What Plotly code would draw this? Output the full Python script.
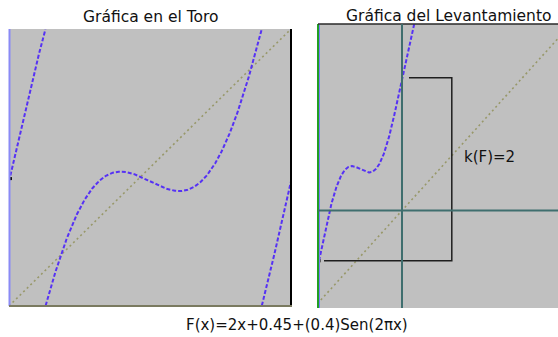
import numpy as np
import plotly.graph_objects as go

# Circle map coefficients: F(x) = slope*x + offset + amplitude*sin(2*pi*x)
slope = 2
offset = 0.45
amplitude = 0.4
degree = 2  # k(F)

titles = ["Gráfica en el Toro", "Gráfica del Levantamiento"]
formula = f"F(x)={slope}x+{offset}+({amplitude})Sen(2\u03c0x)"
degree_label = f"k(F)={degree}"

CURVE = "#5632f4"
DIAG = "#98986a"
TEAL = "#3f6e6e"
BG = "#c0c0c0"


def F(x):
    return slope * x + offset + amplitude * np.sin(2 * np.pi * x)


# Graph on the torus: F mod 1, broken where it wraps around
xt = np.linspace(0, 1, 1201)
yt = np.mod(F(xt), 1.0)
tx, ty = [], []
for i in range(len(xt)):
    if i > 0 and yt[i] < yt[i - 1] - 0.5:
        tx.append(None)
        ty.append(None)
    tx.append(xt[i])
    ty.append(yt[i])

# Lift on the real line
xl = np.linspace(0, 1.3, 800)
yl = F(xl)

W, H = 558, 337


def px(v):
    return v / W


def py(v):
    return (H - v) / H


fig = go.Figure()

# left panel: torus
fig.add_trace(go.Scatter(x=[0, 1], y=[0, 1], mode="lines", xaxis="x", yaxis="y",
                         line=dict(color=DIAG, width=1.6, dash="2px,3px"), hoverinfo="skip"))
fig.add_trace(go.Scatter(x=tx, y=ty, mode="lines", xaxis="x", yaxis="y",
                         line=dict(color=CURVE, width=2, dash="4px,2px"), hoverinfo="skip"))
fig.add_trace(go.Scatter(x=[0.005], y=[F(0) % 1 + 0.01], mode="markers", xaxis="x", yaxis="y",
                         marker=dict(color="black", size=3, symbol="square"), hoverinfo="skip"))

# right panel: lift
fig.add_trace(go.Scatter(x=[-0.1, 4], y=[-0.1, 4], mode="lines", xaxis="x2", yaxis="y2",
                         line=dict(color=DIAG, width=1.6, dash="2px,3px"), hoverinfo="skip"))
fig.add_trace(go.Scatter(x=xl, y=yl, mode="lines", xaxis="x2", yaxis="y2",
                         line=dict(color=CURVE, width=2, dash="4px,2px"), hoverinfo="skip"))
fig.add_trace(go.Scatter(x=[0.0], y=[F(0)], mode="markers", xaxis="x2", yaxis="y2",
                         marker=dict(color="black", size=3, symbol="square"), hoverinfo="skip"))

# bracket showing the rise F(1) - F(0) = k(F)
bx = 1.6
fig.add_trace(go.Scatter(x=[0.06, bx, bx, 1.084], y=[F(0), F(0), F(1), F(1)], mode="lines",
                         xaxis="x2", yaxis="y2", line=dict(color="#1e1e1e", width=1.5),
                         hoverinfo="skip"))

shapes = [
    # left panel frame
    dict(type="line", xref="paper", yref="paper", x0=px(9.5), x1=px(9.5), y0=py(306), y1=py(29),
         line=dict(color="#8a8af5", width=2)),
    dict(type="line", xref="paper", yref="paper", x0=px(291), x1=px(291), y0=py(306), y1=py(29),
         line=dict(color="black", width=2)),
    dict(type="line", xref="paper", yref="paper", x0=px(9), x1=px(292), y0=py(306), y1=py(306),
         line=dict(color="#7a7a60", width=2)),
    # right panel frame and axes
    dict(type="line", xref="paper", yref="paper", x0=px(318), x1=px(318), y0=py(308), y1=py(24),
         line=dict(color="#22a022", width=2)),
    dict(type="line", xref="paper", yref="paper", x0=px(319.5), x1=px(319.5), y0=py(308), y1=py(25),
         line=dict(color="#7a7af5", width=1)),
    dict(type="line", xref="paper", yref="paper", x0=px(318), x1=1, y0=py(24), y1=py(24),
         line=dict(color="#2a2a2a", width=1.5)),
    dict(type="line", xref="x2", yref="paper", x0=1, x1=1, y0=py(308), y1=py(24),
         line=dict(color=TEAL, width=2)),
    dict(type="line", xref="paper", yref="y2", x0=px(318), x1=1, y0=1, y1=1,
         line=dict(color=TEAL, width=2)),
]

font = dict(family="DejaVu Sans, Liberation Sans, sans-serif", color="#111111")
annotations = [
    dict(text=titles[0], x=px(150), y=py(17), xref="paper", yref="paper", showarrow=False,
         xanchor="center", yanchor="middle", font=dict(size=15.5, **font)),
    dict(text=titles[1], x=px(449), y=py(16), xref="paper", yref="paper", showarrow=False,
         xanchor="center", yanchor="middle", font=dict(size=15.5, **font)),
    dict(text=formula, x=px(297), y=py(325), xref="paper", yref="paper", showarrow=False,
         xanchor="center", yanchor="middle", font=dict(size=15, **font)),
    dict(text=degree_label, x=px(462), y=py(157), xref="paper", yref="paper", showarrow=False,
         xanchor="left", yanchor="middle", font=dict(size=15, **font)),
]

y0_px, sy = 302.0, 91.5
sx = 83.0
axis_common = dict(showgrid=False, zeroline=False, showticklabels=False, ticks="",
                   showline=False, fixedrange=True)

fig.update_layout(
    width=W, height=H,
    margin=dict(l=0, r=0, t=0, b=0),
    paper_bgcolor="white",
    plot_bgcolor=BG,
    showlegend=False,
    xaxis=dict(domain=[px(9), px(291)], range=[0, 1], **axis_common),
    yaxis=dict(domain=[py(306), py(29)], range=[0, 1], **axis_common),
    xaxis2=dict(domain=[px(318), 1.0], range=[-1 / sx, (W - 319) / sx], anchor="y2", **axis_common),
    yaxis2=dict(domain=[py(308), py(24)], range=[-(308 - y0_px) / sy, (y0_px - 24) / sy],
                anchor="x2", **axis_common),
    shapes=shapes,
    annotations=annotations,
)

fig.write_html("out.html")
